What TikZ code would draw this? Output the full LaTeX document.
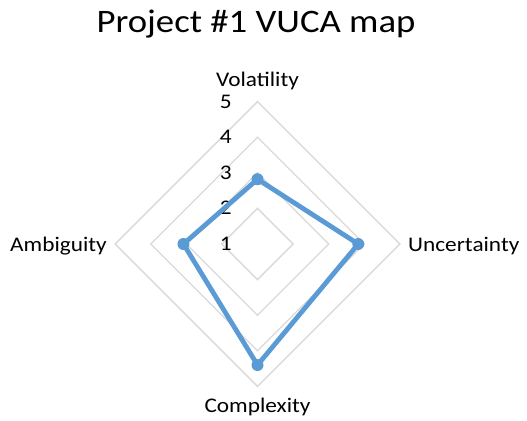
\documentclass[tikz,border=0pt]{standalone}
\usepackage{fontspec}
\setmainfont{Carlito}[FakeStretch=1.12]
\usetikzlibrary{positioning}
\definecolor{seriesblue}{HTML}{5B9BD5}
\definecolor{gridgray}{HTML}{D9D9D9}
\tikzset{
  grid line/.style = {draw=gridgray, line width=1.3pt},
  series/.style = {draw=seriesblue, line width=4.8pt, line join=round},
  marker/.style = {circle, fill=seriesblue, minimum size=12pt,
                   inner sep=0pt, outer sep=0pt},
  axis label/.style = {font=\fontsize{20.8}{24}\selectfont, inner sep=0pt}
}

\begin{document}
\begin{tikzpicture}[x=1pt,y=-1pt]
	\def \cx{257.5}
	\def \cy{244}
	\def \r{35.6}

	\useasboundingbox (0,0) rectangle (527,420);

	% Title
	\node[font=\fontsize{32.8}{38}\selectfont, anchor=base, inner sep=0pt] (title) at (256,33) {Project \#1 VUCA map};

	% Rings 2-5
	\foreach \k in {1,...,4}
		\draw[grid line] (\cx,\cy-\k*\r) -- (\cx+\k*\r,\cy) -- (\cx,\cy+\k*\r) -- (\cx-\k*\r,\cy) -- cycle;

	% Scale
	\foreach \k in {1,...,5}
		\node[axis label, anchor=base east] (tick\k) at (232,\cy-\k*\r+\r+6.5) {\k};

	% Axes
	\node[axis label, anchor=base] (vlab) at (\cx,86) {Volatility};
	\node[axis label, anchor=base west] (ulab) at (408,251) {Uncertainty};
	\node[axis label, anchor=base] (clab) at (\cx,412) {Complexity};
	\node[axis label, anchor=base east] (alab) at (107,251) {Ambiguity};

	% Values
	\coordinate (vol) at (\cx,\cy-1.82*\r); % 2.82
	\coordinate (unc) at (\cx+2.83*\r,\cy); % 3.83
	\coordinate (cpx) at (\cx,\cy+3.40*\r); % 4.40
	\coordinate (amb) at (\cx-2.08*\r,\cy); % 3.08

	\draw[series] (vol) -- (unc) -- (cpx) -- (amb) -- cycle;
	\foreach \p in {vol,unc,cpx,amb}
		\node[marker] (dot-\p) at (\p) {};

\end{tikzpicture}
\end{document}
